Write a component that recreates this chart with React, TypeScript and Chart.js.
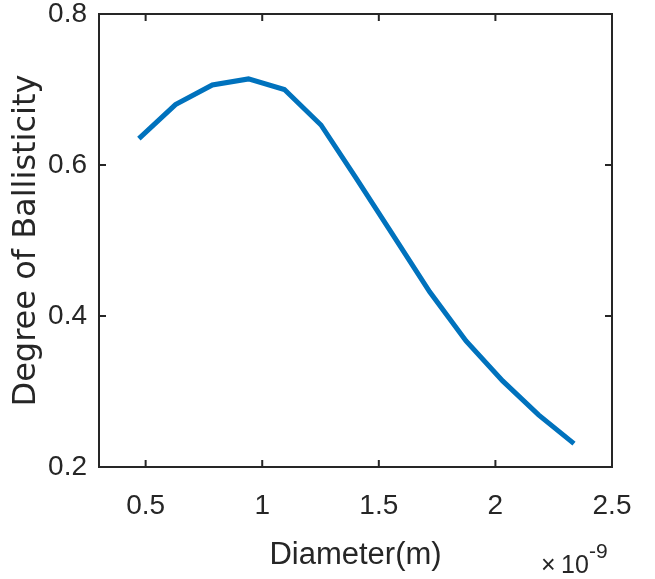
import React, { useEffect, useRef } from "react";
import { Chart, registerables } from "chart.js";

Chart.register(...registerables);

const diameters = [0.471, 0.628, 0.786, 0.941, 1.095, 1.252, 1.404, 1.561, 1.718, 1.874, 2.031, 2.185, 2.337];
const ballisticity = [0.635, 0.68, 0.706, 0.714, 0.7, 0.653, 0.582, 0.507, 0.432, 0.367, 0.314, 0.269, 0.231];
const xTicks = [0.5, 1, 1.5, 2, 2.5];
const yTicks = [0.2, 0.4, 0.6, 0.8];
const xLabel = "Diameter(m)";
const yLabel = "Degree of Ballisticity";
const xExponent = "-9";

const AXIS = "#262626";
const SANS = "'Liberation Sans', Arial, sans-serif";

export default function App() {
  const ref = useRef<HTMLCanvasElement>(null);

  useEffect(() => {
    document.body.style.margin = "0";
    const frame = {
      id: "matlabFrame",
      afterDraw(chart: any) {
        const { ctx, chartArea } = chart;
        const { left, right, top, bottom } = chartArea;
        const xs = chart.scales.x;
        const ys = chart.scales.y;
        ctx.save();
        ctx.strokeStyle = AXIS;
        ctx.lineWidth = 2;
        ctx.strokeRect(left, top, right - left, bottom - top);
        const tl = 7;
        ctx.beginPath();
        xTicks.forEach((v) => {
          const p = xs.getPixelForValue(v);
          ctx.moveTo(p, bottom);
          ctx.lineTo(p, bottom - tl);
          ctx.moveTo(p, top);
          ctx.lineTo(p, top + tl);
        });
        yTicks.forEach((v) => {
          const p = ys.getPixelForValue(v);
          ctx.moveTo(left, p);
          ctx.lineTo(left + tl, p);
          ctx.moveTo(right, p);
          ctx.lineTo(right - tl, p);
        });
        ctx.stroke();
        ctx.fillStyle = AXIS;
        ctx.textBaseline = "alphabetic";
        ctx.textAlign = "left";
        ctx.font = `25px ${SANS}`;
        ctx.fillText("\u00d7", 541, 573);
        ctx.fillText("10", 561, 573);
        ctx.font = `21px ${SANS}`;
        ctx.fillText(xExponent, 589, 558);
        ctx.restore();
      },
    };

    const chart = new Chart(ref.current as HTMLCanvasElement, {
      type: "line",
      data: {
        datasets: [
          {
            data: diameters.map((x, i) => ({ x, y: ballisticity[i] })),
            borderColor: "#0072BD",
            borderWidth: 5,
            pointRadius: 0,
            tension: 0,
            fill: false,
          },
        ],
      },
      options: {
        responsive: false,
        animation: false,
        layout: { padding: { top: 14, right: 43, left: 0, bottom: 0 } },
        plugins: { legend: { display: false }, tooltip: { enabled: false } },
        scales: {
          x: {
            type: "linear",
            min: 0.3,
            max: 2.5,
            afterBuildTicks: (s: any) => {
              s.ticks = xTicks.map((v) => ({ value: v }));
            },
            afterFit: (s: any) => {
              s.height = 112;
              s.paddingLeft = 0;
              s.paddingRight = 0;
            },
            grid: { display: false, drawTicks: false },
            border: { display: false },
            ticks: {
              font: { family: SANS, size: 28 },
              color: AXIS,
              padding: 22,
              maxRotation: 0,
              autoSkip: false,
              callback: (v: any) => String(v),
            },
            title: {
              display: true,
              text: xLabel,
              font: { family: SANS, size: 31 },
              color: AXIS,
              padding: { top: 0, bottom: 5 },
            },
          },
          y: {
            type: "linear",
            min: 0.2,
            max: 0.8,
            afterBuildTicks: (s: any) => {
              s.ticks = yTicks.map((v) => ({ value: v }));
            },
            afterFit: (s: any) => {
              s.width = 99;
              s.paddingTop = 0;
              s.paddingBottom = 0;
            },
            grid: { display: false, drawTicks: false },
            border: { display: false },
            ticks: {
              font: { family: SANS, size: 28 },
              color: AXIS,
              padding: 12,
              autoSkip: false,
              callback: (v: any) => String(v),
            },
            title: {
              display: true,
              text: yLabel,
              font: { family: "'DejaVu Sans', sans-serif", size: 32 },
              color: AXIS,
              padding: { top: 7, bottom: 0 },
            },
          },
        },
      },
      plugins: [frame],
    } as any);

    return () => chart.destroy();
  }, []);

  return <canvas ref={ref} width={655} height={579} style={{ display: "block" }} />;
}
